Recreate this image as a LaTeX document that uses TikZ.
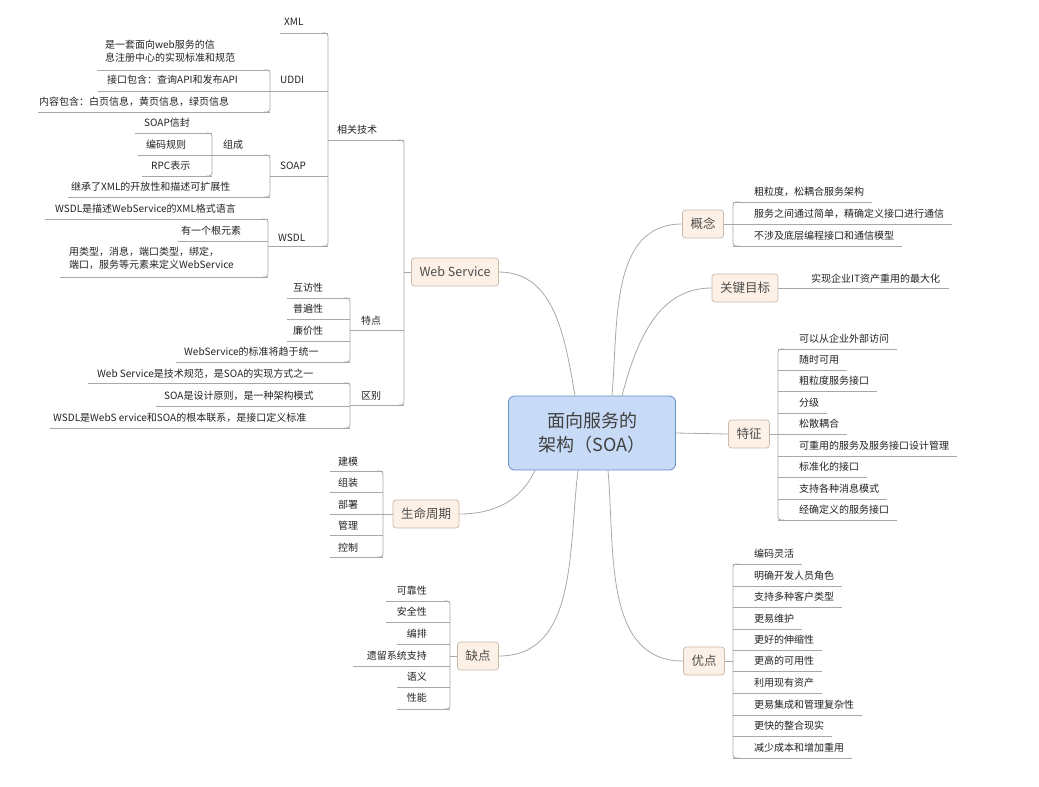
\documentclass[tikz,border=0pt]{standalone}
\usepackage{fontspec}
\setmainfont{Noto Sans CJK SC}
\definecolor{lc}{HTML}{A8A8A8}
\definecolor{tc}{HTML}{222222}
\definecolor{bfill}{HTML}{FDF1E7}
\definecolor{bdraw}{HTML}{C9B9A8}
\definecolor{rfill}{HTML}{C7DAF6}
\definecolor{rdraw}{HTML}{6A8CC8}
\tikzset{
 ln/.style={draw=lc,line width=0.8pt},
 it/.style={font=\fontsize{10}{13}\selectfont,inner sep=1pt,text=tc},
 brn/.style={draw=bdraw,fill=bfill,rounded corners=3pt,font=\fontsize{12.5}{15}\selectfont,text=black!70,minimum height=28pt,inner xsep=8pt,line width=0.7pt},
}
\newcounter{nn}
\newcommand\RI[3]{\stepcounter{nn}\node[it,anchor=west] (n\thenn) at (#1+20,#2-10) {#3};\coordinate (c\thenn) at (#1,#2);\draw[ln] (c\thenn) -- ([xshift=7pt]n\thenn.east |- c\thenn);}
\newcommand\LI[7]{\stepcounter{nn}\node[it,anchor=#4,align=left] (n\thenn) at (#5,#6) {#7};\coordinate (a\thenn) at (#3,#2);\coordinate (c\thenn) at (#1,#2);\draw[ln] (a\thenn) -- (c\thenn);}
\newcommand\RB[3]{\draw[ln,rounded corners=3pt] (#1+6,#2) -- (#1,#2) -- (#1,#3) -- (#1+6,#3);}
\newcommand\LB[3]{\draw[ln,rounded corners=3pt] (#1-6,#2) -- (#1,#2) -- (#1,#3) -- (#1-6,#3);}
\begin{document}
\begin{tikzpicture}[x=1pt,y=-1pt]
\useasboundingbox (0,0) rectangle (1039,787);
% root
\node[draw=rdraw,fill=rfill,rounded corners=6pt,line width=0.8pt,minimum width=167pt,minimum height=74pt,align=center,font=\fontsize{18}{24}\selectfont,text=black!75] (root) at (592,433) {面向服务的\\架构（SOA）};
% branches
\node[brn] (gn) at (703,224) {概念};
\node[brn] (kg) at (745,288) {关键目标};
\node[brn] (tz) at (749,434) {特征};
\node[brn] (yd) at (704,661) {优点};
\node[brn] (ws) at (455,272) {Web Service};
\node[brn] (sm) at (426,514) {生命周期};
\node[brn] (qd) at (478,656) {缺点};
% curves
\draw[ln] ([xshift=20pt]root.north) to[out=85,in=180] (gn.west);
\draw[ln] ([xshift=30pt]root.north) to[out=75,in=180] (kg.west);
\draw[ln] (root.east) -- (tz.west);
\draw[ln] ([xshift=16pt]root.south) to[out=-85,in=180] (yd.west);
\draw[ln] ([xshift=-17pt]root.north) to[out=100,in=0] (ws.east);
\draw[ln] ([xshift=-57pt]root.south) to[out=-115,in=0] (sm.east);
\draw[ln] ([xshift=-14pt]root.south) to[out=-97,in=0] (qd.east);
% 概念
\coordinate (gnb) at (733,224); \draw[ln] (gn.east) -- (gnb);
\RB{733}{202}{246}
\RI{733}{202}{粗粒度，松耦合服务架构}
\RI{733}{224}{服务之间通过简单，精确定义接口进行通信}
\RI{733}{246}{不涉及底层编程接口和通信模型}
% 关键目标
\node[it,anchor=west] (kg1) at (810,279) {实现企业IT资产重用的最大化};
\draw[ln] (kg.east) -- ([xshift=8pt]kg1.east |- kg.east);
% 特征
\coordinate (tzb) at (778,434); \draw[ln] (tz.east) -- (tzb);
\RB{778}{349}{520}
\RI{778}{349}{可以从企业外部访问}
\RI{778}{370}{随时可用}
\RI{778}{391}{粗粒度服务接口}
\RI{778}{413}{分级}
\RI{778}{434}{松散耦合}
\RI{778}{456}{可重用的服务及服务接口设计管理}
\RI{778}{477}{标准化的接口}
\RI{778}{499}{支持各种消息模式}
\RI{778}{520}{经确定义的服务接口}
% 优点
\coordinate (ydb) at (733,661); \draw[ln] (yd.east) -- (ydb);
\RB{733}{564}{758}
\RI{733}{564}{编码灵活}
\RI{733}{586}{明确开发人员角色}
\RI{733}{607}{支持多种客户类型}
\RI{733}{629}{更易维护}
\RI{733}{650}{更好的伸缩性}
\RI{733}{671}{更高的可用性}
\RI{733}{693}{利用现有资产}
\RI{733}{715}{更易集成和管理复杂性}
\RI{733}{736}{更快的整合现实}
\RI{733}{758}{减少成本和增加重用}
% Web Service
\coordinate (wsb) at (404,272); \draw[ln] (ws.west) -- (wsb);
\LB{404}{140}{405}
\LI{404}{140}{328}{west}{336}{130}{相关技术}
\LI{404}{330}{350}{west}{360}{321}{特点}
\LI{404}{405}{350}{west}{360}{396}{区别}
\LB{328}{33}{246}
\LI{328}{33}{280}{west}{283}{22}{XML}
\LI{328}{91}{270}{west}{279}{80}{UDDI}
\LI{328}{176}{270}{west}{279}{166}{SOAP}
\LI{328}{246}{268}{west}{277}{238}{WSDL}
\LB{270}{70}{112}
\LI{270}{70}{97}{west}{104}{51}{是一套面向web服务的信\\息注册中心的实现标准和规范}
\LI{270}{91}{98}{west}{106}{80}{接口包含：查询API和发布API}
\LI{270}{112}{38}{west}{38}{102}{内容包含：白页信息，黄页信息，绿页信息}
\LB{270}{155}{197}
\LI{270}{155}{212}{west}{222}{145}{组成}
\LI{270}{197}{68}{west}{70}{187}{继承了XML的开放性和描述可扩展性}
\LB{212}{133}{176}
\LI{212}{133}{135}{west}{143}{123}{SOAP信封}
\LI{212}{155}{138}{west}{145}{145}{编码规则}
\LI{212}{176}{142}{west}{150}{166}{RPC表示}
\LB{268}{219}{277}
\LI{268}{219}{45}{west}{54}{209}{WSDL是描述WebService的XML格式语言}
\LI{268}{241}{178}{west}{180}{231}{有一个根元素}
\LI{268}{277}{60}{west}{68}{258}{用类型，消息，端口类型，绑定，\\端口，服务等元素来定义WebService}
\LB{350}{298}{362}
\LI{350}{298}{287}{west}{292}{288}{互访性}
\LI{350}{319}{287}{west}{292}{309}{普遍性}
\LI{350}{341}{287}{west}{292}{331}{廉价性}
\LI{350}{362}{176}{west}{183}{352}{WebService的标准将趋于统一}
\LB{350}{383}{428}
\LI{350}{383}{88}{west}{96}{374}{Web Service是技术规范，是SOA的实现方式之一}
\LI{350}{406}{156}{west}{163}{396}{SOA是设计原则，是一种架构模式}
\LI{350}{428}{50}{west}{52}{418}{WSDL是WebS ervice和SOA的根本联系，是接口定义标准}
% 生命周期
\coordinate (smb) at (383,514); \draw[ln] (sm.west) -- (smb);
\LB{383}{471}{557}
\LI{383}{471}{330}{west}{337}{462}{建模}
\LI{383}{492}{330}{west}{337}{483}{组装}
\LI{383}{514}{330}{west}{337}{505}{部署}
\LI{383}{535}{330}{west}{337}{526}{管理}
\LI{383}{557}{330}{west}{337}{548}{控制}
% 缺点
\coordinate (qdb) at (450,656); \draw[ln] (qd.west) -- (qdb);
\LB{450}{601}{709}
\LI{450}{601}{386}{east}{428}{591}{可靠性}
\LI{450}{622}{386}{east}{428}{612}{安全性}
\LI{450}{644}{397}{east}{428}{634}{编排}
\LI{450}{666}{353}{east}{428}{656}{遗留系统支持}
\LI{450}{687}{397}{east}{428}{677}{语义}
\LI{450}{709}{397}{east}{428}{698}{性能}
\end{tikzpicture}
\end{document}
